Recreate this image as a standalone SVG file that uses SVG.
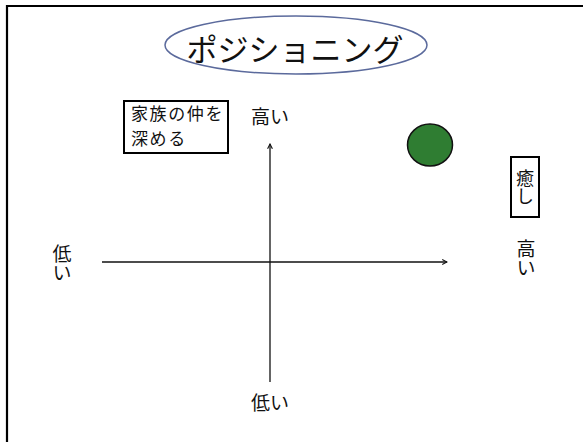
<svg xmlns="http://www.w3.org/2000/svg" width="583" height="442" viewBox="0 0 583 442">
<style>
text{font-family:"Noto Sans CJK JP","Noto Sans CJK SC",sans-serif;fill:#111;}
.lbl{font-size:19px;}
.vert{writing-mode:vertical-rl;}
.box{fill:#fff;stroke:#000;stroke-width:2;}
.axis{stroke:#111;stroke-width:1.3;fill:none;}
</style>
<defs>
<marker id="arr" viewBox="0 0 10 10" refX="9" refY="5" markerWidth="6" markerHeight="6" markerUnits="userSpaceOnUse" orient="auto">
<path d="M1,1 L9,5 L1,9" fill="none" stroke="#111" stroke-width="1.8"/>
</marker>
</defs>
<rect width="583" height="442" fill="#fff"/>
<path d="M7,442 L7,6 L583,6" fill="none" stroke="#000" stroke-width="2.2"/>
<g id="title">
<ellipse cx="296" cy="45" rx="131" ry="29" fill="#fff" stroke="#5b6a9c" stroke-width="1.5"/>
<text x="295" y="61" font-size="31" text-anchor="middle">ポジショニング</text>
</g>
<g id="connectors">
<line class="axis" x1="270" y1="382" x2="270" y2="144" marker-end="url(#arr)"/>
<line class="axis" x1="102" y1="262" x2="447" y2="262" marker-end="url(#arr)"/>
</g>
<g id="kazoku">
<rect class="box" x="124" y="101" width="104" height="52"/>
<text font-size="17" letter-spacing="1.6"><tspan x="131" y="120">家族の仲を</tspan><tspan x="131" y="145">深める</tspan></text>
</g>
<g id="top-high"><text class="lbl" x="270" y="124" text-anchor="middle">高い</text></g>
<g id="bottom-low"><text class="lbl" x="270" y="410" text-anchor="middle">低い</text></g>
<g id="left-low">
<text class="lbl vert" x="62" y="244">低い</text>
</g>
<g id="right-high">
<text class="lbl vert" x="526" y="239">高い</text>
</g>
<g id="iyashi">
<rect class="box" x="511" y="157" width="28" height="60"/>
<text class="vert" x="525" y="169" font-size="18">癒し</text>
</g>
<g id="position">
<ellipse cx="430" cy="145" rx="22.5" ry="21" fill="#2f7d32" stroke="#111" stroke-width="1.5"/>
</g>
</svg>
